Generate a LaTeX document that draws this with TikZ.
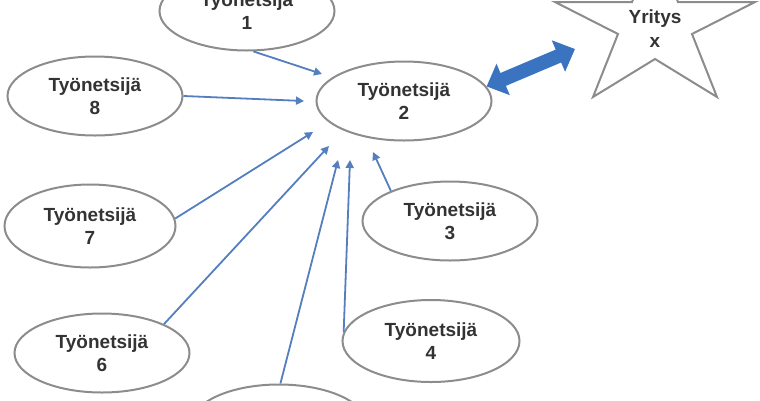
\documentclass[tikz,border=0pt]{standalone}
\usepackage{fontspec}
\setmainfont{Liberation Sans}
\usetikzlibrary{arrows.meta,shapes.geometric}
\definecolor{ellgray}{RGB}{140,140,140}
\definecolor{linkblue}{RGB}{84,126,190}
\definecolor{bigblue}{RGB}{58,115,192}
\begin{document}
\begin{tikzpicture}[x=1pt,y=-1pt,
  seeker/.style={ellipse, draw=ellgray, line width=2pt, minimum width=175pt, minimum height=79pt, inner sep=0pt, align=center, font=\fontsize{19}{23}\selectfont\bfseries, text=black!80},
  starlabel/.style={inner sep=0pt, align=center, font=\fontsize{19}{24}\selectfont\bfseries, text=black!80},
  link/.style={draw=linkblue, line width=1.8pt, -{Triangle[length=8pt,width=8pt]}},
  bigarrow/.style={draw=bigblue, line width=14pt, {Triangle[length=18pt,width=33pt]}-{Triangle[length=18pt,width=33pt]}}
]
\useasboundingbox (0,0) rectangle (760,400);

\node[seeker] (e1) at (247,11) {Työnetsijä\\1};
\node[seeker] (e2) at (404,101) {Työnetsijä\\2};
\node[seeker] (e3) at (450,221) {Työnetsijä\\3};
\node[seeker, minimum width=177pt, minimum height=82pt] (e4) at (431,341) {Työnetsijä\\4};
\node[seeker] (e5) at (279,424) {};
\node[seeker] (e6) at (102,353) {Työnetsijä\\6};
\node[seeker, minimum width=171pt, minimum height=83pt] (e7) at (90,226) {Työnetsijä\\7};
\node[seeker] (e8) at (95,96) {Työnetsijä\\8};

% star (company)
\draw[draw=ellgray, line width=2pt, line join=miter]
  (655,-57) -- (632,2) -- (555,2) -- (618,34) -- (593,97) -- (655,59)
  -- (717,97) -- (692,34) -- (755,2) -- (678,2) -- cycle;
\node[starlabel] (star) at (655,29) {Yritys\\x};
\coordinate (sa) at (575,49);

\draw[bigarrow] (e2.10) -- (sa);

\coordinate (t1) at (322,74);
\coordinate (t8) at (304,101);
\coordinate (t7) at (313,132);
\coordinate (t6) at (329,146);
\coordinate (t5) at (338,160);
\coordinate (t4) at (350,160);
\coordinate (t3) at (373,152);

\draw[link] (e1.-81) -- (t1);
\draw[link] (e8.east) -- (t8);
\draw[link] (e7.5) -- (t7);
\draw[link] (e6.25) -- (t6);
\draw[link] (e5.88) -- (t5);
\draw[link] (e4.174) -- (t4);
\draw[link] (e3.153) -- (t3);
\end{tikzpicture}
\end{document}
